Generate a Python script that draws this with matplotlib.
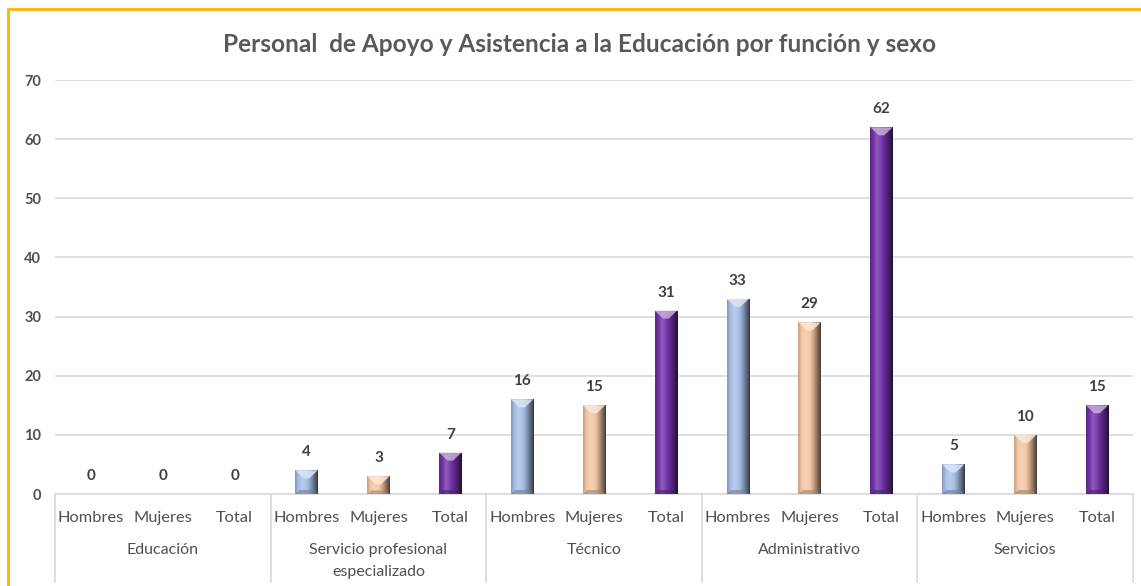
import matplotlib
matplotlib.use("Agg")
import matplotlib.pyplot as plt
import numpy as np
from matplotlib.colors import to_rgb
from matplotlib.patches import Polygon
from matplotlib.lines import Line2D

plt.rcParams['font.family'] = ['Lato', 'DejaVu Sans']

title = "Personal  de Apoyo y Asistencia a la Educación por función y sexo"
groups = ["Educación", "Servicio profesional\nespecializado", "Técnico", "Administrativo", "Servicios"]
series = ["Hombres", "Mujeres", "Total"]
hombres = [0, 4, 16, 33, 5]
mujeres = [0, 3, 15, 29, 10]
total = [0, 7, 31, 62, 15]
yticks = [0, 10, 20, 30, 40, 50, 60, 70]

colors = {"Hombres": "#A7BEE6", "Mujeres": "#F3C6A2", "Total": "#7132A6"}
text_gray = "#505050"

W, H = 1141, 586
fig = plt.figure(figsize=(W / 100, H / 100), dpi=100)
fig.patch.set_facecolor("white")

ax_l, ax_r, ax_b, ax_t = 55, 1133, 494, 80
ax = fig.add_axes([ax_l / W, 1 - ax_b / H, (ax_r - ax_l) / W, (ax_b - ax_t) / H])
ax.set_xlim(-0.5, 3 * len(groups) - 0.5)
ax.set_ylim(0, 70)
ax.set_yticks(yticks)
ax.set_yticklabels([str(t) for t in yticks], fontsize=10.5, fontweight="bold", color=text_gray)
ax.tick_params(axis="y", length=0, pad=10)
ax.set_xticks([])
for s in ax.spines.values():
    s.set_visible(False)
ax.grid(axis="y", color="#D9D9D9", linewidth=1.2)
ax.set_axisbelow(True)
ax.axhline(0, color="#D9D9D9", linewidth=1.2, clip_on=False)

px_per_unit = (ax_b - ax_t) / 70.0
bar_w = 0.31


def shade(rgb, f):
    rgb = np.array(rgb)
    if f >= 0:
        return rgb + (1 - rgb) * f
    return rgb * (1 + f)


def draw_bar(x, h, color):
    base = to_rgb(color)
    bars = ax.bar(x, h, width=bar_w, color=color, zorder=2, linewidth=0)
    if h <= 0:
        return
    patch = bars[0]
    # cylinder-like shading across the bar
    n = 64
    t = np.linspace(0, 1, n)
    prof = np.where(t < 0.3, -0.2 + (t / 0.3) * 0.4, 0.2 - ((t - 0.3) / 0.7) ** 1.4 * 0.9)
    img = np.array([shade(base, f) for f in prof]).reshape(1, n, 3)
    im = ax.imshow(img, extent=[x - bar_w / 2, x + bar_w / 2, 0, h], aspect="auto",
                   zorder=3, interpolation="bilinear")
    im.set_clip_path(patch)
    # bevelled top
    d = min(8 / px_per_unit, h * 0.45)
    top = Polygon([[x - bar_w / 2, h], [x + bar_w / 2, h], [x + bar_w * 0.12, h - d],
                   [x - bar_w * 0.12, h - d]], closed=True,
                  facecolor=shade(base, 0.6), edgecolor="none", zorder=4, alpha=0.85)
    ax.add_patch(top)
    # bevelled bottom
    db = min(4 / px_per_unit, h * 0.2)
    bot = Polygon([[x - bar_w / 2, 0], [x + bar_w / 2, 0], [x + bar_w * 0.3, db],
                   [x - bar_w * 0.3, db]], closed=True,
                  facecolor=shade(base, -0.35), edgecolor="none", zorder=4, alpha=0.6)
    ax.add_patch(bot)


values = {"Hombres": hombres, "Mujeres": mujeres, "Total": total}
for gi in range(len(groups)):
    for si, s in enumerate(series):
        x = gi * 3 + si
        v = values[s][gi]
        draw_bar(x, v, colors[s])
        ax.annotate(str(v), (x, v), xytext=(0, 13), textcoords="offset points",
                    ha="center", va="center", fontsize=11, fontweight="bold",
                    color="#404040", zorder=5)

# category axis below the plot: series row, group row and separators
fig_tr = fig.transFigure


def xfig(xd):
    return ax.transData.transform((xd, 0))[0] / W


for gi, g in enumerate(groups):
    for si, s in enumerate(series):
        fig.text(xfig(gi * 3 + si), 1 - 518 / H, s, ha="center", va="center",
                 fontsize=11.8, color=text_gray)
    if "\n" in g:
        fig.text(xfig(gi * 3 + 1), 1 - 561 / H, g, ha="center", va="center",
                 fontsize=11.5, color=text_gray, linespacing=1.65)
    else:
        fig.text(xfig(gi * 3 + 1), 1 - 550 / H, g, ha="center", va="center",
                 fontsize=11.5, color=text_gray)

for gi in range(len(groups) + 1):
    xd = xfig(gi * 3 - 0.5)
    fig.add_artist(Line2D([xd, xd], [1 - ax_b / H, 1 - 582 / H], color="#D9D9D9",
                          linewidth=1.2, transform=fig_tr))

fig.text(580 / W, 1 - 45 / H, title, ha="center", va="center", fontsize=17.6,
         fontweight="bold", color="#595959")

# frame
fig.add_artist(Line2D([8 / W, 8 / W, 1], [0, 1 - 9 / H, 1 - 9 / H], color="#F5BA14",
                      linewidth=2.2, transform=fig_tr))

fig.savefig("out.png", dpi=100, facecolor="white")
